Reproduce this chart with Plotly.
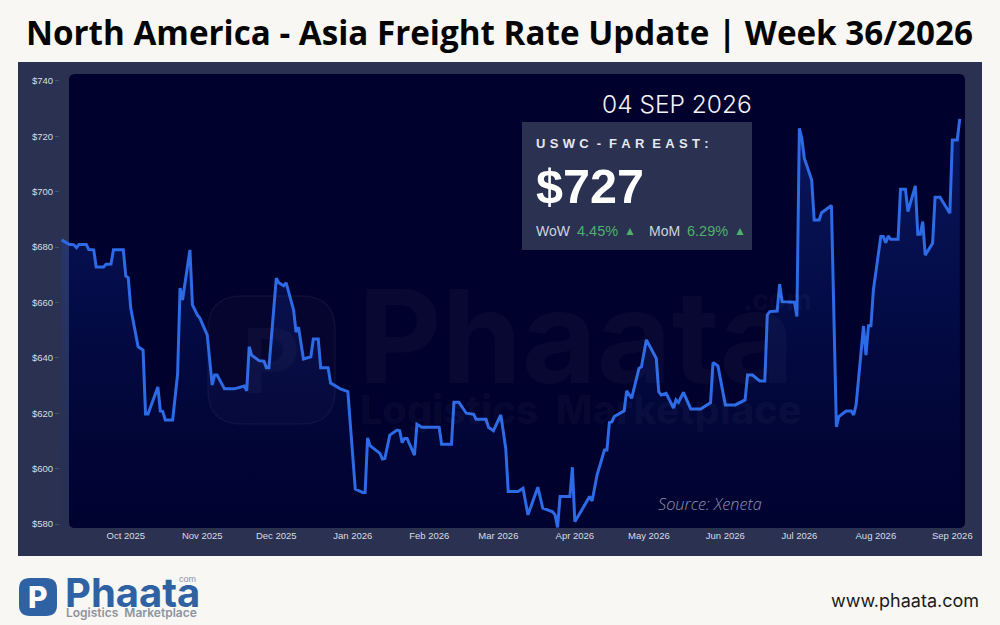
import pandas as pd
import plotly.graph_objects as go

# values: days since the first point, and rate in USD
start_date = "2025-09-05"
day_offsets = [
    0, 3, 5, 6, 7, 10, 11, 13, 14, 17, 18, 20, 21, 25, 26, 27, 28, 31, 33, 34, 35, 39, 40, 41, 42, 45,
    47, 48, 49, 52, 53, 55, 56, 59, 61, 62, 63, 66, 70, 74, 75, 76, 77, 80, 82, 83, 84, 87, 88, 90, 91,
    94, 95, 96, 98, 101, 102, 104, 105, 108, 109, 113, 116, 119, 122, 123, 124, 125, 129, 130, 131, 133,
    136, 137, 138, 139, 140, 143, 144, 146, 153, 154, 158, 159, 161, 164, 167, 168, 172, 173, 175, 178,
    180, 181, 185, 187, 189, 191, 193, 195, 199, 200, 201, 202, 206, 207, 208, 214, 215, 217, 220, 221,
    222, 223, 224, 228, 229, 231, 234, 235, 237, 241, 242, 243, 245, 248, 249, 250, 252, 255, 259, 263,
    264, 266, 269, 273, 277, 278, 280, 283, 285, 286, 287, 290, 291, 292, 297, 298, 299, 300, 301, 304,
    305, 307, 308, 312, 314, 315, 318, 320, 321, 322, 325, 326, 327, 328, 329, 332, 333, 334, 335, 336,
    339, 340, 342, 343, 346, 347, 348, 349, 350, 353, 354, 356, 360, 361, 363, 364,
]
rates = [
    682.6, 681.0, 680.8, 679.8, 680.9, 680.9, 679.1, 679.0, 672.8, 672.8, 673.8, 673.9, 679.0, 679.0,
    669.6, 668.9, 658.0, 644.0, 642.8, 619.7, 619.7, 629.5, 620.8, 620.6, 617.6, 617.6,
    634.2, 665.2, 660.9, 679.0, 659.1, 655.5, 654.4, 648.3, 630.2, 633.8, 633.8, 628.8, 628.8, 629.8,
    628.1, 644.0, 641.0, 639.0, 638.8, 636.4, 636.4, 668.8, 667.1, 666.0, 667.1,
    657.3, 649.3, 651.1, 639.6, 640.4, 646.8, 646.8, 636.4, 636.4, 630.9, 628.8, 627.8, 592.6, 591.4,
    591.4, 611.1, 608.3, 605.5, 603.5, 603.7, 612.1,
    613.9, 613.7, 609.4, 610.9, 610.9, 604.9, 616.0, 614.9, 614.9, 608.8, 608.8, 624.0, 624.0, 620.0,
    619.6, 617.8, 617.8, 614.9, 613.7, 619.4,
    607.3, 591.7, 591.7, 592.9, 583.3, 588.1, 593.3, 585.7, 584.4, 583.3, 578.8, 589.9, 589.9, 600.5,
    580.8, 589.9, 588.3, 597.7, 606.7, 606.7,
    616.6, 616.9, 618.8, 620.9, 628.1, 625.4, 636.2, 636.8, 646.5, 639.8, 627.8, 626.6, 627.2, 621.9,
    624.8, 623.9, 627.5, 621.5, 621.5, 623.8,
    638.3, 637.1, 623.0, 623.0, 624.8, 633.8, 633.8, 631.6, 631.6, 655.5, 656.7, 656.9, 666.6, 660.3,
    660.1, 654.9, 722.9, 719.3, 712.1, 704.2,
    689.8, 689.8, 692.4, 695.0, 615.1, 618.8, 620.8, 620.8, 619.4, 623.0, 651.5, 641.0, 651.6, 651.6,
    664.5, 683.8, 683.8, 681.6, 684.0, 682.8,
    682.8, 700.9, 700.9, 692.8, 702.1, 684.6, 684.6, 689.2, 677.1, 681.4, 698.0, 698.0, 692.2, 718.7,
    718.7, 726.3,
]
y_ticks = [580, 600, 620, 640, 660, 680, 700, 720, 740]
y_labels = ["$580", "$600", "$620", "$640", "$660", "$680", "$700", "$720", "$740"]
x_ticks = ["2025-10-01", "2025-11-01", "2025-12-01", "2026-01-01", "2026-02-01", "2026-03-01",
           "2026-04-01", "2026-05-01", "2026-06-01", "2026-07-01", "2026-08-01", "2026-09-01"]
x_labels = ["Oct 2025", "Nov 2025", "Dec 2025", "Jan 2026", "Feb 2026", "Mar 2026",
            "Apr 2026", "May 2026", "Jun 2026", "Jul 2026", "Aug 2026", "Sep 2026"]

dates = pd.Timestamp(start_date) + pd.to_timedelta(day_offsets, unit="D")

W, H = 1000, 625
PAGE_BG = "#f8f7f3"
PANEL = "#2a3151"
INNER = "#00012c"
LINE = "#2c6ae6"
TICK_TEXT = "#d9dce6"
GREEN = "#4fb06a"
BLUE_LOGO = "#2f62a3"


# figure pixels to paper fractions (margins are 0, so paper is the whole figure)
def fx(px):
    return px / W


def fy(px):
    return 1 - px / H


def rounded(x0, y0, x1, y1, r):
    p = lambda x, y: f"{fx(x)},{fy(y)}"
    return (f"M {p(x0 + r, y0)} L {p(x1 - r, y0)} Q {p(x1, y0)} {p(x1, y0 + r)} "
            f"L {p(x1, y1 - r)} Q {p(x1, y1)} {p(x1 - r, y1)} "
            f"L {p(x0 + r, y1)} Q {p(x0, y1)} {p(x0, y1 - r)} "
            f"L {p(x0, y0 + r)} Q {p(x0, y0)} {p(x0 + r, y0)} Z")


def note(fig, x, y, text, size, color, family="Liberation Sans", anchor="left", weight=None, style=None):
    fig.add_annotation(
        x=fx(x), y=fy(y), xref="paper", yref="paper", text=text, showarrow=False,
        xanchor=anchor, yanchor="middle", borderpad=0,
        font=dict(family=family, size=size, color=color, weight=weight, style=style),
    )


fig = go.Figure()

fig.add_trace(go.Scatter(
    x=dates, y=rates, mode="lines", fill="tozeroy",
    line=dict(color=LINE, width=3),
    fillgradient=dict(
        type="vertical", start=730, stop=578,
        colorscale=[[0, "rgba(30,80,220,0.30)"], [0.5, "rgba(20,60,190,0.17)"], [1, "rgba(10,30,120,0.05)"]],
    ),
    hoverinfo="skip", showlegend=False,
))

shapes = [
    dict(type="rect", xref="paper", yref="paper", x0=fx(18), x1=fx(982), y0=fy(62), y1=fy(556),
         fillcolor=PANEL, line=dict(width=0), layer="below"),
    dict(type="path", xref="paper", yref="paper", path=rounded(69, 74, 965, 528, 6),
         fillcolor=INNER, line=dict(width=0), layer="below"),
    # faint watermark badge behind the line
    dict(type="path", xref="paper", yref="paper", path=rounded(208, 296, 335, 424, 34),
         fillcolor="rgba(255,255,255,0.02)", line=dict(width=1.5, color="rgba(255,255,255,0.05)"), layer="below"),
    # stats box
    dict(type="rect", xref="paper", yref="paper", x0=fx(522), x1=fx(752), y0=fy(122), y1=fy(250),
         fillcolor=PANEL, line=dict(width=0), layer="above"),
    # logo badge
    dict(type="path", xref="paper", yref="paper", path=rounded(19, 578, 57, 616, 11),
         fillcolor=BLUE_LOGO, line=dict(width=0), layer="above"),
]

fig.update_layout(
    width=W, height=H, margin=dict(l=0, r=0, t=0, b=0, autoexpand=False),
    paper_bgcolor=PAGE_BG, plot_bgcolor="rgba(0,0,0,0)", shapes=shapes,
    showlegend=False,
    xaxis=dict(
        domain=[fx(60), fx(962)], range=["2025-09-04 08:00", "2026-09-04 22:00"],
        tickmode="array", tickvals=x_ticks, ticktext=x_labels, showgrid=False, zeroline=False,
        showline=False, ticks="", tickfont=dict(family="Liberation Sans", size=9.5, color=TICK_TEXT),
    ),
    yaxis=dict(
        domain=[fy(528), fy(74)], range=[578.56, 742.5],
        tickmode="array", tickvals=y_ticks, ticktext=y_labels, showgrid=False, zeroline=False,
        showline=False, ticks="outside", ticklen=4, tickcolor="#4a5070", tickwidth=1,
        tickfont=dict(family="Liberation Sans", size=9.5, color=TICK_TEXT),
    ),
)

# title
note(fig, 499, 32, "North America - Asia Freight Rate Update | Week 36/2026", 33.2, "#050505",
     family="Open Sans", anchor="center", weight=700)

# watermark
note(fig, 357, 336, "Phaata", 129, "rgba(255,255,255,0.03)", family="Inter", weight=700)
note(fig, 359, 410, "Logistics  Marketplace", 39.5, "rgba(255,255,255,0.035)", family="Inter", weight=800)
note(fig, 742, 300, ".com", 28, "rgba(255,255,255,0.05)", family="Inter", weight=700)
note(fig, 271, 360, "P", 90, "rgba(255,255,255,0.03)", family="Inter", anchor="center", weight=700)

# stats box text
note(fig, 753, 104, "04 SEP 2026", 24.5, "#f2f3f7", family="Inter", anchor="right", weight=300)
note(fig, 535, 144, "U\u2004S\u2004W\u2004C\u2004 - \u2004F\u2004A\u2004R\u2004 E\u2004A\u2004S\u2004T\u2004:", 13, "#e6e8ef", weight=700)
note(fig, 535, 186, "$727", 48.5, "#ffffff", weight=700)
note(fig, 535, 231, "WoW", 14, "#cfd3df")
note(fig, 576, 231, "4.45%", 14.5, GREEN)
note(fig, 630, 231, "\u25b2", 12, GREEN, anchor="center")
note(fig, 648, 231, "MoM", 14, "#cfd3df")
note(fig, 686, 231, "6.29%", 14.5, GREEN)
note(fig, 740, 231, "\u25b2", 12, GREEN, anchor="center")

note(fig, 657, 504, "Source: Xeneta", 16.3, "#8f93aa", family="Open Sans", weight=300, style="italic")

# logo and footer
note(fig, 38, 597, "P", 30, "#ffffff", family="Inter", anchor="center", weight=800)
note(fig, 64, 592, "Phaata", 40, BLUE_LOGO, family="Inter", weight=700)
note(fig, 178, 579, "com", 9, "#8a94a8", family="Liberation Sans")
note(fig, 65, 612, "Logistics  Marketplace", 12, "#8d949f", family="Inter", weight=600)
note(fig, 980, 600, "www.phaata.com", 18, "#1a1a1a", family="Inter", anchor="right")

# default body margin and scrollbars would push the figure off its 1000x625 spot
fig.write_html(
    "out.html",
    config=dict(displayModeBar=False),
    post_script="document.body.style.margin='0';document.documentElement.style.overflow='hidden';"
                "document.body.style.overflow='hidden';",
)
